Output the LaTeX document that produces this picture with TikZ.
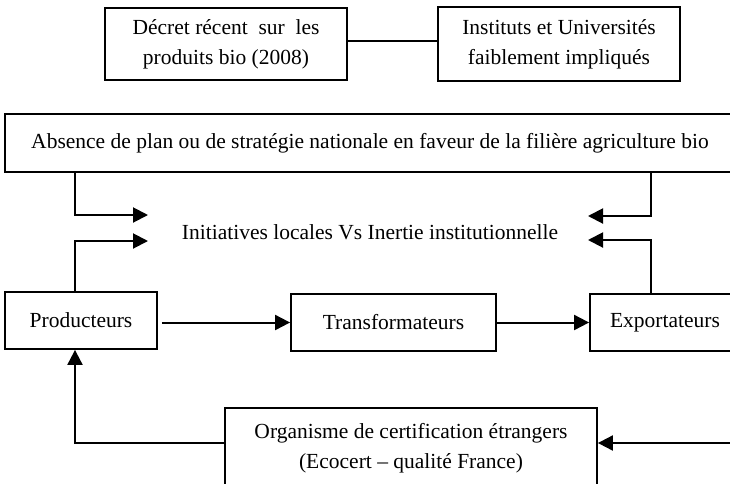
\documentclass[tikz,border=0pt]{standalone}
\usepackage{fontspec}
\setmainfont{Liberation Serif}
\usetikzlibrary{arrows.meta}
\begin{document}
\begin{tikzpicture}[x=1pt,y=-1pt,
  txt/.style={inner sep=0pt,align=center,font=\fontsize{21.5}{30}\selectfont},
  box/.style={txt,draw,line width=1.8pt},
  ln/.style={line width=2pt},
  arr/.style={line width=2pt,-{Triangle[length=15pt,width=15pt]}}]
\useasboundingbox (0,0) rectangle (730,483);
\clip (0,0) rectangle (730,483);
\fill[white] (0,0) rectangle (730,483);

\node[box,minimum width=242pt,minimum height=72pt] (decret) at (226,44)
  {D\'ecret r\'ecent\ \ sur\ \ les\\produits bio (2008)};
\node[box,minimum width=242pt,minimum height=74pt] (inst) at (559,44)
  {Instituts et Universit\'es\\faiblement impliqu\'es};
\node[box,minimum width=730pt,minimum height=58pt] (absence) at (370,143)
  {Absence de plan ou de strat\'egie nationale en faveur de la fili\`ere agriculture bio};
\node[txt] (init) at (370,232) {Initiatives locales Vs Inertie institutionnelle};
\node[box,minimum width=152pt,minimum height=57pt] (prod) at (81,320.5) {Producteurs};
\node[box,minimum width=205pt,minimum height=57pt] (trans) at (393.5,322.5) {Transformateurs};
\node[box,minimum width=150pt,minimum height=57pt] (expo) at (665,322.5) {Exportateurs};
\node[box,minimum width=372pt,minimum height=80pt] (org) at (411,448)
  {Organisme de certification \'etrangers\\(Ecocert -- qualit\'e France)};

\coordinate (cL) at (75,0);
\coordinate (cR) at (651,0);
\coordinate (tl1) at (148,215);
\coordinate (tr1) at (588,216);
\coordinate (tl2) at (148,241);
\coordinate (tr2) at (588,240);
\coordinate (redge) at (735,443);

\draw[ln] ([yshift=3pt]decret.east) -- ([yshift=3pt]decret.east -| inst.west);
\draw[arr] (absence.south -| cL) |- (tl1);
\draw[arr] (absence.south -| cR) |- (tr1);
\draw[arr] (prod.north -| cL) |- (tl2);
\draw[arr] (expo.north -| cR) |- (tr2);
\draw[arr,shorten <=4pt] (prod.east |- trans.west) -- (trans.west);
\draw[arr] (trans.east) -- (expo.west);
\draw[arr] (redge) -- (redge -| org.east);
\draw[arr] (org.west |- redge) -| (prod.south -| cL);
\end{tikzpicture}
\end{document}
